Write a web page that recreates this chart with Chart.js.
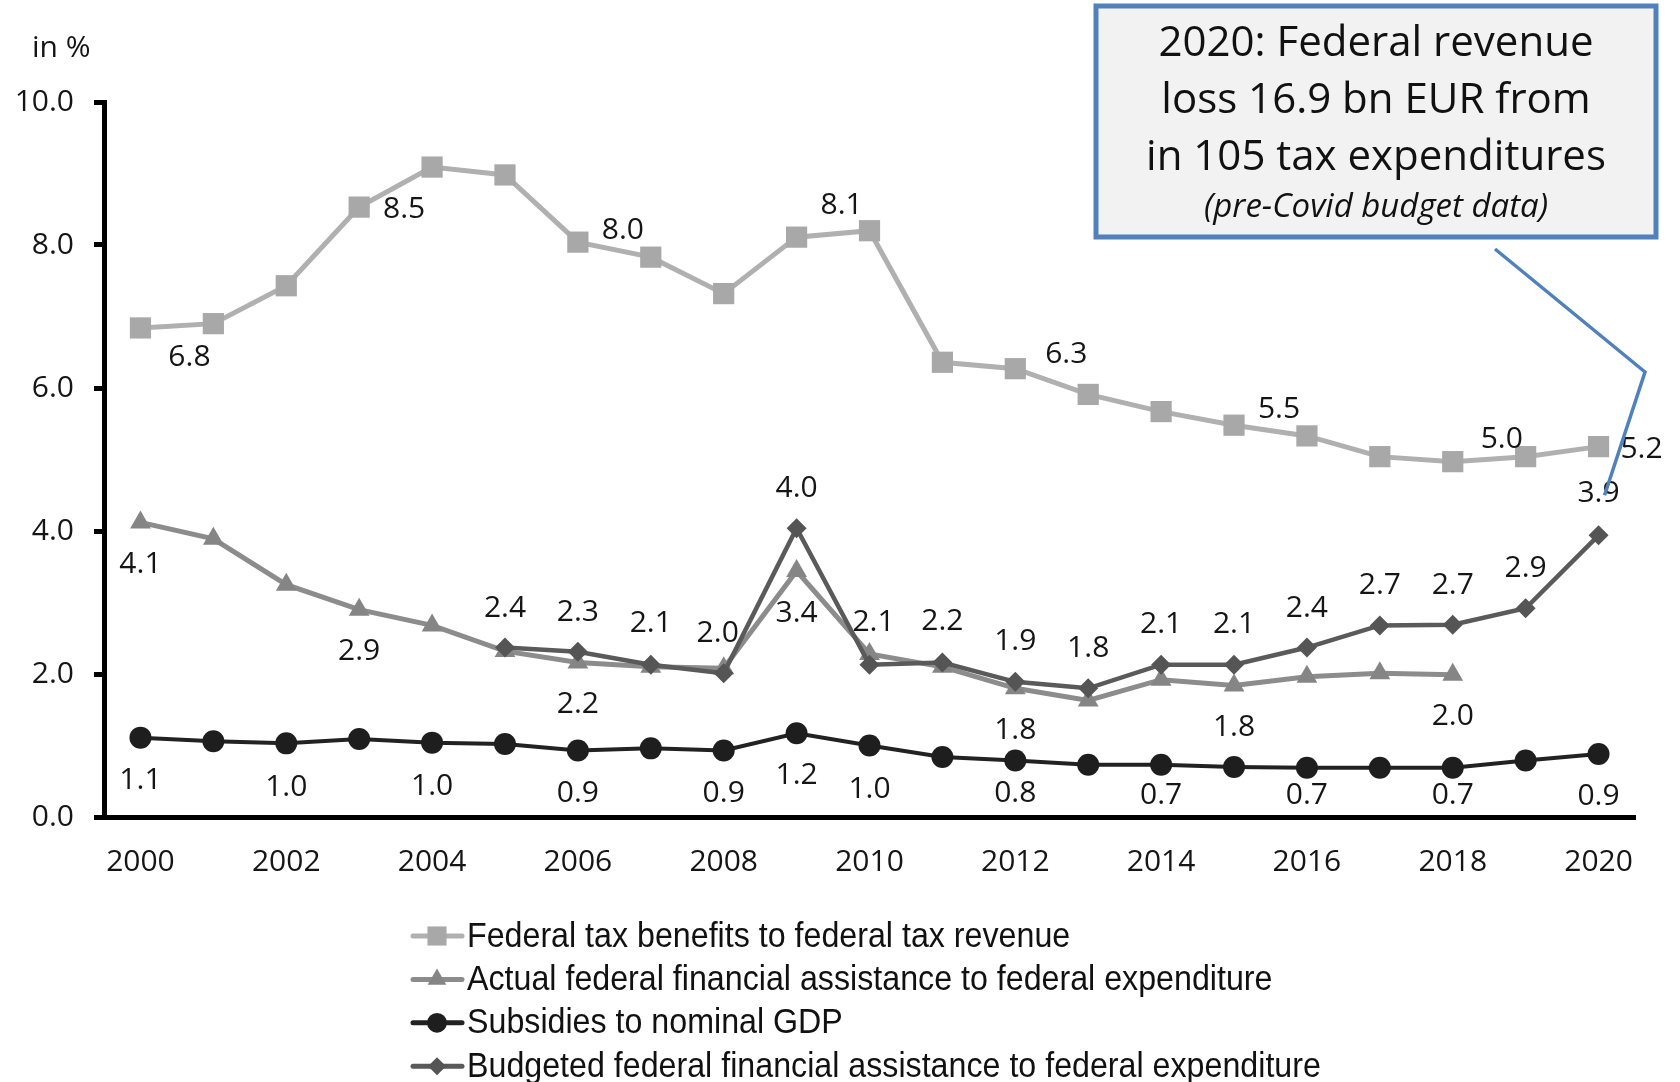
<!DOCTYPE html>
<html>
<head>
<meta charset="utf-8">
<script src="https://cdn.jsdelivr.net/npm/chart.js@4.4.1/dist/chart.umd.min.js"></script>
<style>
  html, body { margin: 0; padding: 0; background: #fff; }
  canvas { display: block; }
</style>
</head>
<body>
<canvas id="chart" width="1680" height="1082"></canvas>
<script>
// Kennzahlen Bund 2000-2020, in %
const years = ['2000', '2001', '2002', '2003', '2004', '2005', '2006', '2007', '2008', '2009', '2010',
  '2011', '2012', '2013', '2014', '2015', '2016', '2017', '2018', '2019', '2020'];

const taxBenefits = [6.84, 6.90, 7.43, 8.53, 9.09, 8.98, 8.04, 7.83, 7.32, 8.11, 8.20,
  6.36, 6.27, 5.91, 5.67, 5.48, 5.33, 5.04, 4.97, 5.04, 5.18];
const actualAssistance = [4.12, 3.89, 3.25, 2.90, 2.68, 2.32, 2.16, 2.10, 2.08, 3.44, 2.28,
  2.10, 1.80, 1.63, 1.92, 1.84, 1.96, 2.01, 1.99, null, null];
const subsidies = [1.11, 1.06, 1.03, 1.09, 1.04, 1.02, 0.93, 0.96, 0.93, 1.17, 1.00,
  0.84, 0.79, 0.73, 0.73, 0.70, 0.69, 0.69, 0.69, 0.79, 0.88];
const budgetedAssistance = [null, null, null, null, null, 2.37, 2.31, 2.13, 2.01, 4.04, 2.13,
  2.16, 1.89, 1.80, 2.13, 2.13, 2.37, 2.68, 2.69, 2.92, 3.94];

const yTicks = ['0.0', '2.0', '4.0', '6.0', '8.0', '10.0'];

const seriesNames = [
  'Federal tax benefits to federal tax revenue',
  'Actual federal financial assistance to federal expenditure',
  'Subsidies to nominal GDP',
  'Budgeted federal financial assistance to federal expenditure'
];

const boxLines = ['2020: Federal revenue', 'loss 16.9 bn EUR from', 'in 105 tax expenditures'];
const boxNote = '(pre-Covid budget data)';

// welche Punkte eine Beschriftung bekommen: [index, dx, dy]
const labelPlacement = [
  [[0, 49, 30], [3, 45, 2], [6, 45, -12], [9, 45, -32], [12, 51, -14], [15, 45, -16], [18, 49, -22], [20, 43, 3]],
  [[0, 0, 42], [3, 0, 42], [6, 0, 42], [9, 0, 42], [12, 0, 42], [15, 0, 42], [18, 0, 42]],
  [[0, 0, 43], [2, 0, 44], [4, 0, 44], [6, 0, 43], [8, 0, 43], [9, 0, 42], [10, 0, 44],
   [12, 0, 33], [14, 0, 31], [16, 0, 28], [18, 0, 28], [20, 0, 42]],
  [[5, 0, -39], [6, 0, -39], [7, 0, -41], [8, -6, -40], [9, 0, -40], [10, 4, -42], [11, 0, -41],
   [12, 0, -40], [13, 0, -40], [14, 0, -40], [15, 0, -40], [16, 0, -39], [17, 0, -40],
   [18, 0, -39], [19, 0, -40], [20, 0, -42]]
];

const labelFont = '30px "Open Sans", sans-serif';

const valueLabels = {
  id: 'valueLabels',
  afterDatasetsDraw(chart) {
    const ctx = chart.ctx;
    ctx.save();
    ctx.font = labelFont;
    ctx.fillStyle = '#151515';
    ctx.textAlign = 'center';
    ctx.textBaseline = 'middle';
    labelPlacement.forEach((spots, di) => {
      const meta = chart.getDatasetMeta(di);
      const values = chart.data.datasets[di].data;
      spots.forEach(([i, dx, dy]) => {
        const pt = meta.data[i];
        ctx.fillText(values[i].toFixed(1), pt.x + dx, pt.y + dy);
      });
    });
    ctx.restore();
  }
};

function marker(ctx, style, x, y, r) {
  ctx.beginPath();
  if (style === 'rect') {
    const s = r * Math.SQRT1_2;
    ctx.rect(x - s, y - s, 2 * s, 2 * s);
  } else if (style === 'triangle') {
    for (let k = 0; k < 3; k++) {
      const a = k * 2 * Math.PI / 3;
      ctx[k ? 'lineTo' : 'moveTo'](x + Math.sin(a) * r, y - Math.cos(a) * r);
    }
    ctx.closePath();
  } else if (style === 'circle') {
    ctx.arc(x, y, r, 0, Math.PI * 2);
  } else {
    ctx.moveTo(x, y - r); ctx.lineTo(x + r, y); ctx.lineTo(x, y + r); ctx.lineTo(x - r, y);
    ctx.closePath();
  }
  ctx.fill();
}

const extras = {
  id: 'extras',
  afterDraw(chart) {
    const ctx = chart.ctx;
    const xs = chart.scales.x, ys = chart.scales.y;
    ctx.save();

    // Einheit
    ctx.font = '30px "Open Sans", sans-serif';
    ctx.fillStyle = '#151515';
    ctx.textBaseline = 'middle';
    ctx.textAlign = 'left';
    ctx.fillText('in %', 32, 48);

    // Legende, eine Zeile je Reihe
    chart.data.datasets.forEach((ds, i) => {
      const y = 936 + i * 43.4;
      ctx.strokeStyle = ds.borderColor;
      ctx.fillStyle = ds.pointBackgroundColor;
      ctx.lineWidth = 5;
      ctx.lineCap = 'round';
      ctx.beginPath();
      ctx.moveTo(413, y); ctx.lineTo(462, y);
      ctx.stroke();
      marker(ctx, ds.pointStyle, 437, y, ds.pointRadius * 0.9);
      ctx.save();
      ctx.translate(467, y);
      ctx.scale(0.92, 1);
      ctx.font = '35px "Liberation Sans", sans-serif';
      ctx.fillStyle = '#111';
      ctx.fillText(seriesNames[i], 0, 1);
      ctx.restore();
    });

    // Hinweisbox
    const bx = 1096, by = 6, bw = 560, bh = 231;
    ctx.fillStyle = '#f2f2f2';
    ctx.fillRect(bx, by, bw, bh);
    ctx.strokeStyle = '#4f81bd';
    ctx.lineWidth = 5;
    ctx.strokeRect(bx, by, bw, bh);

    const cx = bx + bw / 2;
    ctx.fillStyle = '#111';
    ctx.textAlign = 'center';
    ctx.font = '42px "Open Sans", sans-serif';
    boxLines.forEach((t, k) => ctx.fillText(t, cx, 44 + k * 57));
    ctx.font = 'italic 33px "Open Sans", sans-serif';
    ctx.fillText(boxNote, cx, 208);

    // Verbindungslinie zum Wert 2020
    const ex = xs.getPixelForValue(20) + 6;
    const ey = ys.getPixelForValue(4.5);
    ctx.strokeStyle = '#4f81bd';
    ctx.lineWidth = 3.5;
    ctx.lineCap = 'butt';
    ctx.beginPath();
    ctx.moveTo(1495, 249);
    ctx.lineTo(1645, 372);
    ctx.lineTo(ex, ey);
    ctx.stroke();

    ctx.restore();
  }
};

const ctx = document.getElementById('chart');

new Chart(ctx, {
  type: 'line',
  data: {
    labels: years,
    datasets: [{
      label: seriesNames[0],
      data: taxBenefits,
      borderColor: '#b0b0b0',
      pointBackgroundColor: '#a8a8a8',
      pointBorderWidth: 0,
      borderWidth: 5,
      pointStyle: 'rect',
      pointRadius: 15,
      order: 3
    }, {
      label: seriesNames[1],
      data: actualAssistance,
      borderColor: '#8c8c8c',
      pointBackgroundColor: '#858585',
      pointBorderWidth: 0,
      borderWidth: 5,
      pointStyle: 'triangle',
      pointRadius: 12,
      order: 2
    }, {
      label: seriesNames[2],
      data: subsidies,
      borderColor: '#222222',
      pointBackgroundColor: '#1e1e1e',
      pointBorderWidth: 0,
      borderWidth: 4,
      pointStyle: 'circle',
      pointRadius: 11,
      order: 0
    }, {
      label: seriesNames[3],
      data: budgetedAssistance,
      borderColor: '#5a5a5a',
      pointBackgroundColor: '#555555',
      pointBorderWidth: 0,
      borderWidth: 4.5,
      pointStyle: 'rectRot',
      pointRadius: 10,
      order: 1
    }]
  },
  options: {
    responsive: false,
    animation: false,
    spanGaps: false,
    layout: { padding: { top: 102, right: 45, bottom: 185, left: 0 } },
    plugins: {
      legend: { display: false },
      tooltip: { enabled: false }
    },
    elements: { line: { tension: 0 } },
    scales: {
      x: {
        offset: true,
        grid: { display: false, drawTicks: false },
        border: { display: true, color: '#000', width: 5 },
        ticks: {
          autoSkip: false,
          maxRotation: 0,
          padding: 27,
          color: '#151515',
          font: { family: '"Open Sans", sans-serif', size: 30 },
          callback: (v, i) => (i % 2 === 0 ? years[i] : '')
        },
        afterFit: s => { s.height = 80; }
      },
      y: {
        min: 0,
        max: 10,
        grid: { drawOnChartArea: false, drawTicks: true, tickLength: 10, color: '#000', lineWidth: 5 },
        border: { display: true, color: '#000', width: 5 },
        ticks: {
          stepSize: 2,
          padding: 20,
          color: '#151515',
          font: { family: '"Open Sans", sans-serif', size: 30 },
          callback: (v, i) => yTicks[i]
        },
        afterFit: s => { s.width = 104; }
      }
    }
  },
  plugins: [valueLabels, extras]
});
</script>
</body>
</html>
